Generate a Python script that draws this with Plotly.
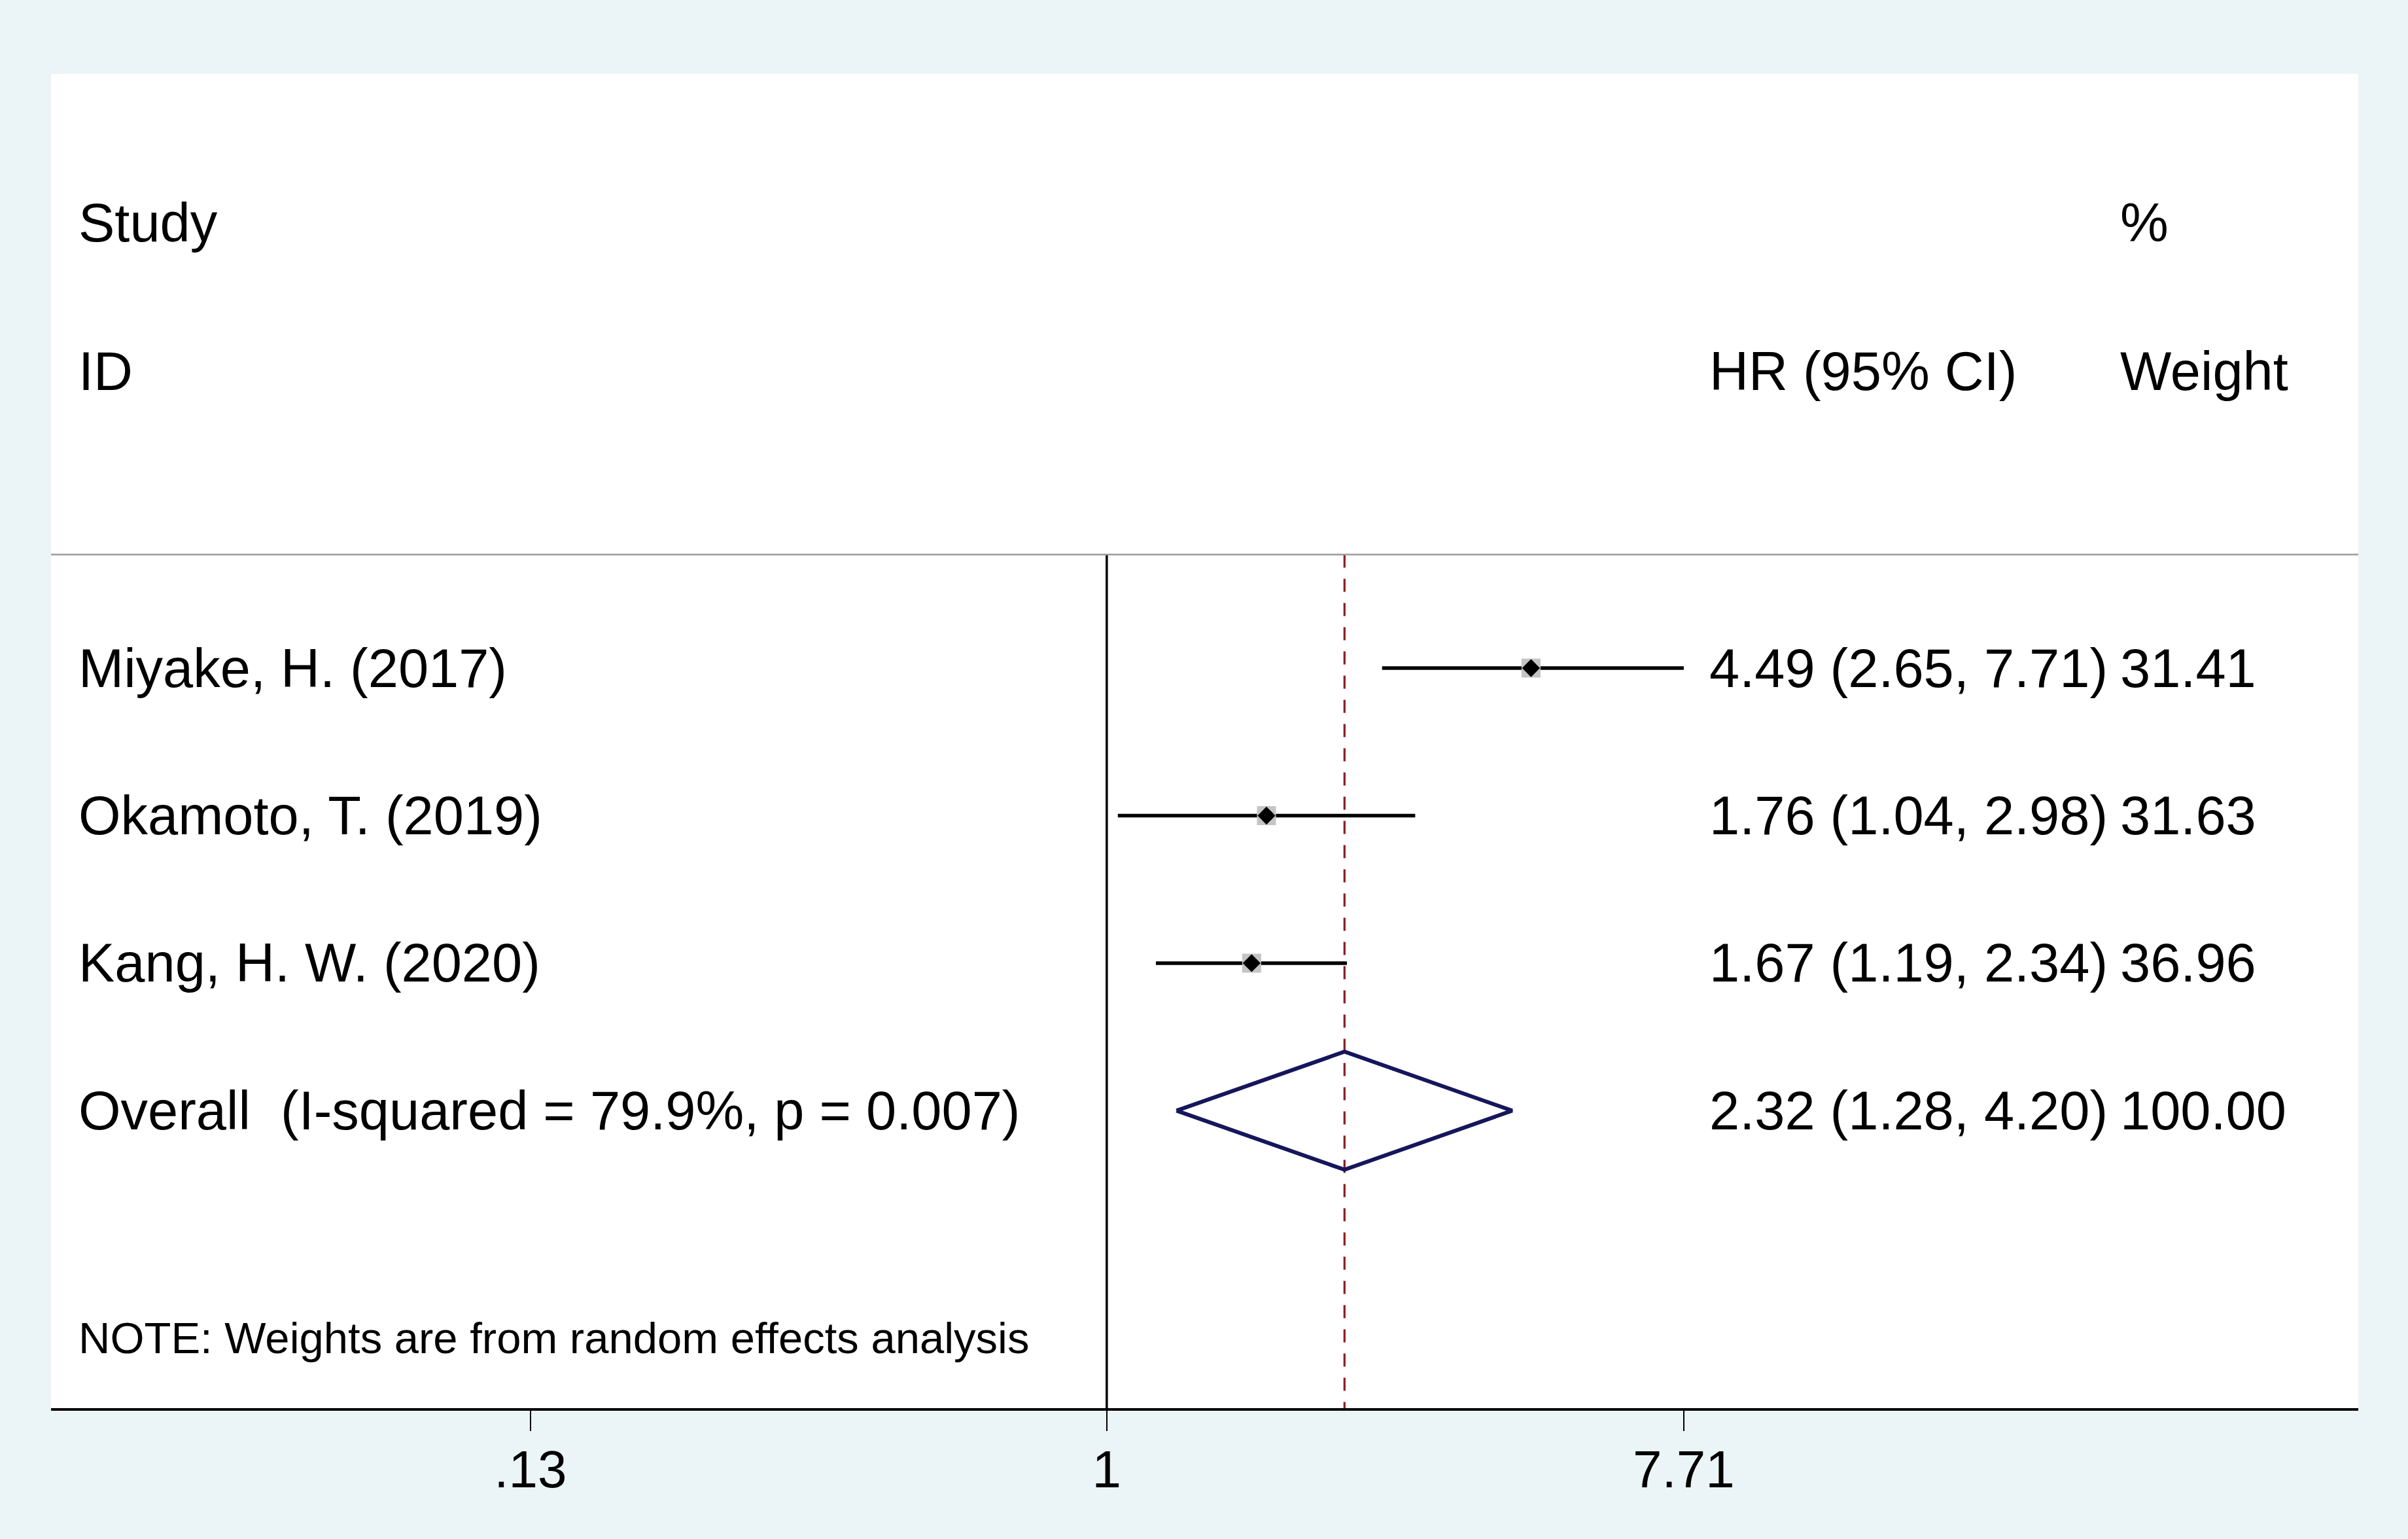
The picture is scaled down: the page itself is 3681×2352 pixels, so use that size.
import plotly.graph_objects as go

# study rows
studies = ["Miyake, H. (2017)", "Okamoto, T. (2019)", "Kang, H. W. (2020)"]
hr = [4.49, 1.76, 1.67]
ci_low = [2.65, 1.04, 1.19]
ci_high = [7.71, 2.98, 2.34]
weights = [31.41, 31.63, 36.96]
rows = [1, 2, 3]

# pooled estimate
overall_label = "Overall\u00a0\u00a0(I-squared = 79.9%, p = 0.007)"
overall_hr = 2.32
overall_low = 1.28
overall_high = 4.20
overall_weight = 100.00
overall_row = 4

tick_vals = [0.13, 1, 7.71]
tick_text = [".13", "1", "7.71"]

note = "NOTE: Weights are from random effects analysis"

FONT = "Arial, Liberation Sans, sans-serif"
W, H = 3681, 2352
y_top, y_bottom = -3.027, 6.016
hline_y = 0.231

fig = go.Figure()

# line of no effect
fig.add_trace(go.Scatter(x=[1, 1], y=[hline_y, y_bottom], mode="lines",
                         line=dict(color="black", width=3.5), hoverinfo="skip"))
# overall effect dashed line
fig.add_trace(go.Scatter(x=[overall_hr, overall_hr], y=[hline_y, y_bottom], mode="lines",
                         line=dict(color="#8C1C24", width=3.2, dash="20px,17px"), hoverinfo="skip"))

# confidence intervals
ci_x, ci_y = [], []
for lo, hi, r in zip(ci_low, ci_high, rows):
    ci_x += [lo, hi, None]
    ci_y += [r, r, None]
fig.add_trace(go.Scatter(x=ci_x, y=ci_y, mode="lines",
                         line=dict(color="black", width=5.5), hoverinfo="skip"))

# weight boxes and point estimates
fig.add_trace(go.Scatter(x=hr, y=rows, mode="markers",
                         marker=dict(symbol="square", size=29, color="#C4C4C4", line=dict(width=0))))
fig.add_trace(go.Scatter(x=hr, y=rows, mode="markers",
                         marker=dict(symbol="diamond", size=21, color="black", line=dict(width=0))))

# pooled diamond
h = 0.40
fig.add_trace(go.Scatter(
    x=[overall_low, overall_hr, overall_high, overall_hr, overall_low],
    y=[overall_row, overall_row - h, overall_row, overall_row + h, overall_row],
    mode="lines", line=dict(color="#16165C", width=6), hoverinfo="skip"))

fig.add_shape(type="line", xref="paper", yref="y", x0=0, x1=1, y0=hline_y, y1=hline_y,
              line=dict(color="#9A9A9A", width=2.5))

x_label, x_hr, x_wt = 0.0113, 0.7182, 0.8962
ann = []


def txt(x, y, s, size=83):
    ann.append(dict(x=x, y=y, xref="paper", yref="y", text=s, showarrow=False,
                    xanchor="left", yanchor="middle",
                    font=dict(family=FONT, size=size, color="black")))


txt(x_label, -2.02, "Study")
txt(x_label, -1.01, "ID")
txt(x_hr, -1.01, "HR (95% CI)")
txt(x_wt, -2.02, "%")
txt(x_wt, -1.01, "Weight")

for name, e, lo, hi, wt, r in zip(studies, hr, ci_low, ci_high, weights, rows):
    txt(x_label, r, name)
    txt(x_hr, r, f"{e:.2f} ({lo:.2f}, {hi:.2f})")
    txt(x_wt, r, f"{wt:.2f}")

txt(x_label, overall_row, overall_label)
txt(x_hr, overall_row, f"{overall_hr:.2f} ({overall_low:.2f}, {overall_high:.2f})")
txt(x_wt, overall_row, f"{overall_weight:.2f}")
txt(x_label, 5.541, note, size=67)

fig.update_layout(
    width=W, height=H,
    margin=dict(l=78, r=76, t=113, b=200),
    paper_bgcolor="#EBF4F6", plot_bgcolor="white",
    showlegend=False,
    annotations=ann,
    xaxis=dict(type="log", range=[-1.623, 1.924], tickvals=tick_vals, ticktext=tick_text,
               showgrid=False, zeroline=False, showline=True, linecolor="black", linewidth=4,
               ticks="outside", ticklen=31, tickwidth=2, tickcolor="black",
               ticklabelstandoff=-10,
               tickfont=dict(family=FONT, size=80, color="black")),
    yaxis=dict(range=[y_bottom, y_top], showgrid=False, zeroline=False,
               showticklabels=False, showline=False),
)

fig.write_html("out.html", config={"displayModeBar": False},
               post_script="document.body.style.margin='0';")
